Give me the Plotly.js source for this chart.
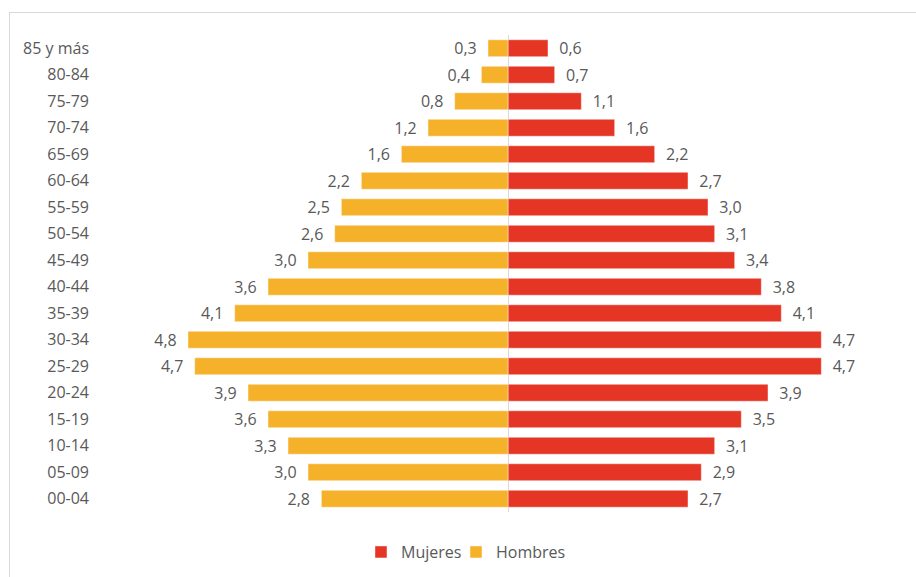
<!DOCTYPE html>
<html>
<head>
<meta charset="utf-8">
<script src="https://cdn.plot.ly/plotly-3.0.1.min.js"></script>
<style>
html,body{margin:0;padding:0;background:#fff;}
#chart{width:916px;height:577px;position:absolute;left:0;top:0;}
#frame{position:absolute;left:9px;top:12px;width:920px;height:600px;border:1px solid #d9d9d9;pointer-events:none;}
</style>
</head>
<body>
<div id="chart"></div>
<div id="frame"></div>
<script>
const categories = ["00-04","05-09","10-14","15-19","20-24","25-29","30-34","35-39","40-44","45-49","50-54","55-59","60-64","65-69","70-74","75-79","80-84","85 y más"];
const mujeres = [2.7, 2.9, 3.1, 3.5, 3.9, 4.7, 4.7, 4.1, 3.8, 3.4, 3.1, 3.0, 2.7, 2.2, 1.6, 1.1, 0.7, 0.6];
const hombres = [2.8, 3.0, 3.3, 3.6, 3.9, 4.7, 4.8, 4.1, 3.6, 3.0, 2.6, 2.5, 2.2, 1.6, 1.2, 0.8, 0.4, 0.3];

const fmt = v => v.toFixed(1).replace('.', ',');
const sp = '\u00A0\u00A0';
const font = {family: '"Open Sans", Lato, sans-serif', size: 16, color: '#595959'};
const legFont = {family: font.family, size: 16, color: '#595959'};

const traces = [
  {
    type: 'bar', orientation: 'h', name: 'Mujeres', legend: 'legend',
    y: categories, x: mujeres,
    text: mujeres.map(v => sp + fmt(v)),
    textposition: 'outside', cliponaxis: false, constraintext: 'none',
    textfont: font,
    marker: {color: '#E53524', line: {color: 'rgba(255,255,255,0.45)', width: 1}},
    hoverinfo: 'skip'
  },
  {
    type: 'bar', orientation: 'h', name: 'Hombres', legend: 'legend2',
    y: categories, x: hombres.map(v => -v),
    text: hombres.map(v => fmt(v) + sp),
    textposition: 'outside', cliponaxis: false, constraintext: 'none',
    textfont: font,
    marker: {color: '#F6B12B', line: {color: 'rgba(255,255,255,0.45)', width: 1}},
    hoverinfo: 'skip'
  }
];

const layout = {
  width: 916, height: 577,
  margin: {l: 105, r: 5, t: 35, b: 65},
  paper_bgcolor: 'rgba(0,0,0,0)', plot_bgcolor: 'rgba(0,0,0,0)',
  font: font,
  barmode: 'overlay', bargap: 0.36,
  showlegend: true,
  legend: {orientation: 'h', x: 0.3176, xanchor: 'left', y: -0.084, yanchor: 'middle', itemwidth: 30, font: legFont},
  legend2: {orientation: 'h', x: 0.4355, xanchor: 'left', y: -0.084, yanchor: 'middle', itemwidth: 30, font: legFont},
  xaxis: {range: [-6.045, 6.045], showticklabels: false, showgrid: false, zeroline: true, zerolinecolor: '#d9d9d9', zerolinewidth: 1, fixedrange: true},
  yaxis: {type: 'category', showgrid: false, zeroline: false, ticks: '', ticklabelstandoff: 15, tickfont: font, automargin: false, fixedrange: true}
};

Plotly.newPlot('chart', traces, layout, {staticPlot: true, displayModeBar: false});
</script>
</body>
</html>
